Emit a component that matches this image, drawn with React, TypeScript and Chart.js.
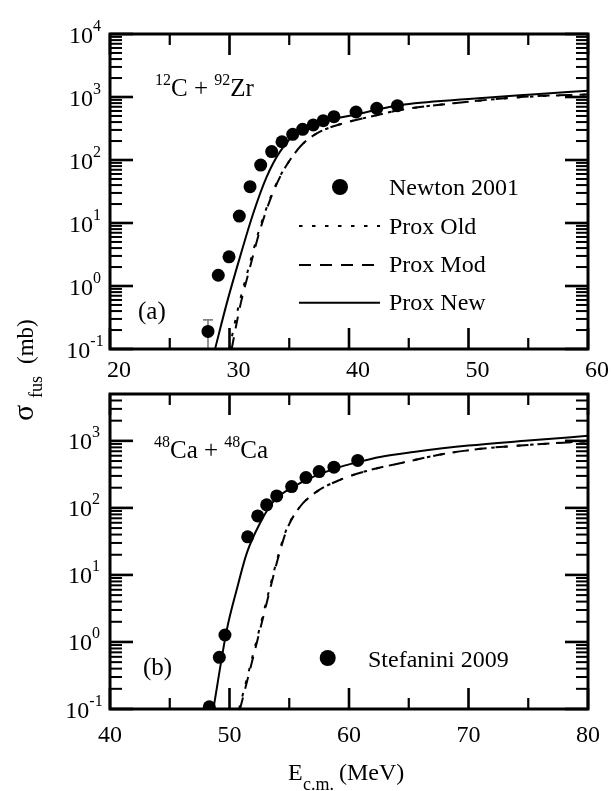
import React, { useEffect, useRef } from "react";
import { Chart, registerables } from "chart.js";

Chart.register(...registerables);

const W = 611;
const H = 791;
const FONT = '"Liberation Serif", "Times New Roman", serif';

// ---------------- Panel (a): 12C + 92Zr ----------------
const aXMin = 20;
const aXMax = 60;
const aYMin = 0.1;
const aYMax = 10000;
const aXTickLabels = [20, 30, 40, 50, 60];
const aXTicks = [20, 25, 30, 35, 40, 45, 50, 55, 60];
const aDecades = [-1, 0, 1, 2, 3, 4];

const newtonE = [28.2, 29.06, 29.96, 30.82, 31.72, 32.61, 33.53, 34.39, 35.29, 36.12, 37.01, 37.85, 38.74, 40.59, 42.32, 44.05];
const newtonSigma = [0.19, 1.48, 2.9, 12.9, 37.7, 83, 136, 195, 256, 307, 360, 421, 487, 578, 662, 728];
const newtonErrE = [28.2];
const newtonErrLow = [0.1];
const newtonErrHigh = [0.29];

const aOldE = [29.98, 30.75, 31.62, 32.48, 33.34, 34.2, 35.06, 36.18, 37.57, 39.81, 42.03, 44.27, 50, 55, 60];
const aOldSigma = [0.1, 0.47, 2.0, 7.7, 23, 54, 100, 184, 281, 396, 499, 622, 841, 1010, 1095];
const aModE = [30.18, 30.88, 31.72, 32.55, 33.39, 34.23, 35.06, 36.18, 37.57, 39.81, 42.03, 44.27, 50, 55, 60];
const aModSigma = [0.1, 0.47, 2.0, 7.7, 23, 54, 100, 184, 281, 396, 499, 622, 841, 1020, 1100];
const aNewE = [28.79, 29.77, 30.88, 31.99, 33.11, 34.23, 35.9, 38.13, 40.36, 44.27, 50, 55, 60];
const aNewSigma = [0.1, 0.53, 2.9, 14.3, 54, 136, 299, 421, 518, 746, 929, 1089, 1259];

// ---------------- Panel (b): 48Ca + 48Ca ----------------
const bXMin = 40;
const bXMax = 80;
const bYMin = 0.1;
const bYMax = 5000;
const bXTickLabels = [40, 50, 60, 70, 80];
const bXTicks = [40, 45, 50, 55, 60, 65, 70, 75, 80];
const bDecades = [-1, 0, 1, 2, 3];

const stefaniniE = [48.31, 49.15, 49.62, 51.52, 52.36, 53.11, 53.95, 55.2, 56.4, 57.5, 58.74, 60.73];
const stefaniniSigma = [0.108, 0.59, 1.27, 37, 76, 111, 151, 208, 283, 348, 405, 510];

const bOldE = [50.8, 51.92, 53.05, 53.9, 54.75, 55.9, 57.3, 59.25, 61.48, 64.27, 68, 71, 75, 80];
const bOldSigma = [0.1, 0.6, 3.8, 15, 47, 104, 175, 262, 356, 464, 640, 760, 870, 990];
const bModE = [50.88, 51.99, 53.11, 53.95, 54.79, 55.9, 57.3, 59.25, 61.48, 64.27, 68, 71, 75, 80];
const bModSigma = [0.1, 0.6, 3.8, 15, 47, 104, 175, 262, 356, 464, 640, 760, 870, 990];
const bNewE = [48.65, 49.77, 50.6, 51.44, 52.55, 53.67, 55.9, 58.69, 60.92, 62.6, 65.4, 70, 75, 80];
const bNewSigma = [0.1, 1.5, 6.0, 21, 59, 124, 234, 378, 491, 575, 680, 850, 1010, 1190];

// ---------------- helpers ----------------
const DOT_DASH = [3.5, 9.5];
const DASH = [12, 9];

type Part = { t: string; size: number; dy?: number };

function drawParts(ctx: CanvasRenderingContext2D, x: number, y: number, parts: Part[]) {
  let cx = x;
  for (const p of parts) {
    ctx.font = `${p.size}px ${FONT}`;
    ctx.fillText(p.t, cx, y + (p.dy || 0));
    cx += ctx.measureText(p.t).width;
  }
  return cx;
}

function partsWidth(ctx: CanvasRenderingContext2D, parts: Part[]) {
  let w = 0;
  for (const p of parts) {
    ctx.font = `${p.size}px ${FONT}`;
    w += ctx.measureText(p.t).width;
  }
  return w;
}

function zip(xs: number[], ys: number[]) {
  return xs.map((x, i) => ({ x, y: ys[i] }));
}

function logTickValues(min: number, max: number) {
  const out: number[] = [];
  for (let n = -3; n <= 6; n++) {
    for (let k = 1; k <= 9; k++) {
      const v = k * Math.pow(10, n);
      if (v >= min * 0.999 && v <= max * 1.001) out.push(v);
    }
  }
  return out;
}

function isDecade(v: number) {
  const l = Math.log10(v);
  return Math.abs(l - Math.round(l)) < 1e-6;
}

function legendLine(ctx: CanvasRenderingContext2D, y: number, dash: number[], label: string, textY: number) {
  ctx.save();
  ctx.strokeStyle = "#000";
  ctx.setLineDash(dash);
  ctx.lineWidth = 2;
  ctx.beginPath();
  ctx.moveTo(299, y);
  ctx.lineTo(380, y);
  ctx.stroke();
  ctx.restore();
  ctx.font = `24px ${FONT}`;
  ctx.fillText(label, 389, textY);
}

function legendDot(ctx: CanvasRenderingContext2D, x: number, y: number) {
  ctx.beginPath();
  ctx.arc(x, y, 8, 0, Math.PI * 2);
  ctx.fill();
}

type PanelCfg = {
  area: { left: number; right: number; top: number; bottom: number };
  xMin: number;
  xMax: number;
  yMin: number;
  yMax: number;
  xTicks: number[];
  xTickLabels: number[];
  xLabelShift: number;
  xLabelBaseline: number;
  decades: number[];
  yLabelCenter: number;
  pointsE: number[];
  pointsS: number[];
  oldE: number[];
  oldS: number[];
  modE: number[];
  modS: number[];
  newE: number[];
  newS: number[];
  errE?: number[];
  errLo?: number[];
  errHi?: number[];
  draw: (ctx: CanvasRenderingContext2D) => void;
};

const panelA: PanelCfg = {
  area: { left: 110, right: 588, top: 34, bottom: 349 },
  xMin: aXMin,
  xMax: aXMax,
  yMin: aYMin,
  yMax: aYMax,
  xTicks: aXTicks,
  xTickLabels: aXTickLabels,
  xLabelShift: 9,
  xLabelBaseline: 376.5,
  decades: aDecades,
  yLabelCenter: 85,
  pointsE: newtonE,
  pointsS: newtonSigma,
  oldE: aOldE,
  oldS: aOldSigma,
  modE: aModE,
  modS: aModSigma,
  newE: aNewE,
  newS: aNewSigma,
  errE: newtonErrE,
  errLo: newtonErrLow,
  errHi: newtonErrHigh,
  draw(ctx) {
    drawParts(ctx, 155, 96, [
      { t: "12", size: 16, dy: -11 },
      { t: "C + ", size: 25 },
      { t: "92", size: 16, dy: -11 },
      { t: "Zr", size: 25 },
    ]);
    ctx.font = `25px ${FONT}`;
    ctx.fillText("(a)", 138, 319);
    legendDot(ctx, 340, 187);
    ctx.font = `24px ${FONT}`;
    ctx.fillText("Newton 2001", 389, 195);
    legendLine(ctx, 226, DOT_DASH, "Prox Old", 233.5);
    legendLine(ctx, 265, DASH, "Prox Mod", 272);
    legendLine(ctx, 302.7, [], "Prox New", 310);
  },
};

const panelB: PanelCfg = {
  area: { left: 110, right: 588, top: 394, bottom: 709 },
  xMin: bXMin,
  xMax: bXMax,
  yMin: bYMin,
  yMax: bYMax,
  xTicks: bXTicks,
  xTickLabels: bXTickLabels,
  xLabelShift: 0,
  xLabelBaseline: 741.5,
  decades: bDecades,
  yLabelCenter: 84,
  pointsE: stefaniniE,
  pointsS: stefaniniSigma,
  oldE: bOldE,
  oldS: bOldSigma,
  modE: bModE,
  modS: bModSigma,
  newE: bNewE,
  newS: bNewSigma,
  draw(ctx) {
    drawParts(ctx, 154, 458, [
      { t: "48", size: 16, dy: -11 },
      { t: "Ca + ", size: 25 },
      { t: "48", size: 16, dy: -11 },
      { t: "Ca", size: 25 },
    ]);
    ctx.font = `25px ${FONT}`;
    ctx.fillText("(b)", 143, 675);
    legendDot(ctx, 327.7, 658);
    ctx.font = `24px ${FONT}`;
    ctx.fillText("Stefanini 2009", 368, 666.5);

    drawParts(ctx, 288, 779.5, [{ t: "E", size: 24 }]);
    drawParts(ctx, 303, 790, [{ t: "c.m.", size: 18 }]);
    drawParts(ctx, 339, 779.5, [{ t: "(MeV)", size: 24 }]);

    ctx.save();
    ctx.translate(33, 421);
    ctx.rotate(-Math.PI / 2);
    drawParts(ctx, 0, 0, [{ t: "σ", size: 30 }]);
    drawParts(ctx, 23, 9, [{ t: "fus", size: 18 }]);
    drawParts(ctx, 57, 0, [{ t: "(mb)", size: 23 }]);
    ctx.restore();
  },
};

// draws inward tick marks + frame of a panel using the chart's own scales
function drawFrameAndTicks(ctx: CanvasRenderingContext2D, chart: any, cfg: PanelCfg) {
  const xs = chart.scales.x;
  const ys = chart.scales.y;
  const L = xs.getPixelForValue(cfg.xMin);
  const R = xs.getPixelForValue(cfg.xMax);
  const T = ys.getPixelForValue(cfg.yMax);
  const B = ys.getPixelForValue(cfg.yMin);
  ctx.save();
  ctx.globalAlpha = 1;
  ctx.globalCompositeOperation = "source-over";
  ctx.fillStyle = "#000";
  ctx.strokeStyle = "#000";
  for (let i = 0; i < cfg.xTicks.length; i++) {
    const px = xs.getPixelForValue(cfg.xTicks[i]);
    const major = i % 2 === 0;
    const len = major ? 21 : 11;
    const tw = major ? 2.6 : 2.2;
    ctx.fillRect(px - tw / 2, B - len, tw, len);
    ctx.fillRect(px - tw / 2, T, tw, len);
  }
  const yv = logTickValues(cfg.yMin, cfg.yMax);
  for (let i = 0; i < yv.length; i++) {
    const py = ys.getPixelForValue(yv[i]);
    const major = isDecade(yv[i]);
    const len = major ? 23 : 12;
    const th = major ? 2.6 : 2;
    ctx.fillRect(L, py - th / 2, len, th);
    ctx.fillRect(R - len, py - th / 2, len, th);
  }
  ctx.lineWidth = 3;
  ctx.strokeRect(L, T, R - L, B - T);
  ctx.restore();
}

function makeChart(canvas: HTMLCanvasElement, cfg: PanelCfg) {
  const plugin = {
    id: "panelDecor",
    beforeDatasetsDraw(chart: any) {
      if (!cfg.errE) return;
      const ctx = chart.ctx as CanvasRenderingContext2D;
      const xs = chart.scales.x;
      const ys = chart.scales.y;
      ctx.save();
      ctx.fillStyle = "#7a7a7a";
      cfg.errE.forEach((e, i) => {
        const px = xs.getPixelForValue(e);
        const p1 = ys.getPixelForValue(cfg.errLo![i]);
        const p2 = ys.getPixelForValue(cfg.errHi![i]);
        ctx.fillRect(px - 0.8, p2, 1.6, p1 - p2);
        ctx.fillRect(px - 5, p2 - 0.8, 10, 1.6);
      });
      ctx.restore();
    },
    afterDraw(chart: any) {
      const ctx = chart.ctx as CanvasRenderingContext2D;
      const xs = chart.scales.x;
      const ys = chart.scales.y;
      ctx.save();
      ctx.fillStyle = "#000";
      ctx.font = `24px ${FONT}`;
      cfg.xTickLabels.forEach((v) => {
        const px = xs.getPixelForValue(v) + cfg.xLabelShift;
        const t = String(v);
        const w = ctx.measureText(t).width;
        ctx.fillText(t, px - w / 2, cfg.xLabelBaseline);
      });
      cfg.decades.forEach((n) => {
        const py = ys.getPixelForValue(Math.pow(10, n));
        const parts: Part[] = [
          { t: "10", size: 24 },
          { t: String(n), size: 16, dy: -12 },
        ];
        const w = partsWidth(ctx, parts);
        drawParts(ctx, cfg.yLabelCenter - w / 2, py + 8.5, parts);
      });
      cfg.draw(ctx);
      ctx.restore();
    },
  };
  return new Chart(canvas, {
    type: "line",
    data: {
      datasets: [
        {
          label: "data",
          data: zip(cfg.pointsE, cfg.pointsS),
          showLine: false,
          pointRadius: 6.5,
          pointBorderWidth: 0,
          pointBorderColor: "#000",
          pointBackgroundColor: "#000",
          borderColor: "#000",
        },
        {
          label: "Prox New",
          data: zip(cfg.newE, cfg.newS),
          borderColor: "#000",
          borderWidth: 2,
          pointRadius: 0,
          cubicInterpolationMode: "monotone",
        },
        {
          label: "Prox Mod",
          data: zip(cfg.modE, cfg.modS),
          borderColor: "#000",
          borderWidth: 2,
          borderDash: DASH,
          pointRadius: 0,
          cubicInterpolationMode: "monotone",
        },
        {
          label: "Prox Old",
          data: zip(cfg.oldE, cfg.oldS),
          borderColor: "#000",
          borderWidth: 2,
          borderDash: DOT_DASH,
          pointRadius: 0,
          cubicInterpolationMode: "monotone",
        },
      ],
    },
    options: {
      responsive: false,
      animation: false,
      events: [],
      layout: {
        padding: {
          left: cfg.area.left,
          right: W - cfg.area.right,
          top: cfg.area.top,
          bottom: H - cfg.area.bottom,
        },
      },
      plugins: { legend: { display: false }, tooltip: { enabled: false } },
      scales: {
        x: { type: "linear", min: cfg.xMin, max: cfg.xMax, display: false },
        y: { type: "logarithmic", min: cfg.yMin, max: cfg.yMax, display: false },
      },
    },
    plugins: [plugin],
  } as any);
}

export default function App() {
  const refA = useRef<HTMLCanvasElement | null>(null);
  const refB = useRef<HTMLCanvasElement | null>(null);
  const refO = useRef<HTMLCanvasElement | null>(null);
  useEffect(() => {
    if (!refA.current || !refB.current || !refO.current) return;
    const ca = makeChart(refA.current, panelA);
    const cb = makeChart(refB.current, panelB);
    const octx = refO.current.getContext("2d")!;
    octx.clearRect(0, 0, W, H);
    drawFrameAndTicks(octx, ca, panelA);
    drawFrameAndTicks(octx, cb, panelB);
    return () => {
      ca.destroy();
      cb.destroy();
    };
  }, []);
  const style: React.CSSProperties = { position: "absolute", left: 0, top: 0, width: W, height: H };
  return (
    <div style={{ position: "absolute", left: 0, top: 0, width: W, height: H, background: "#fff" }}>
      <canvas ref={refA} width={W} height={H} style={style} />
      <canvas ref={refB} width={W} height={H} style={style} />
      <canvas ref={refO} width={W} height={H} style={{ ...style, pointerEvents: "none" }} />
    </div>
  );
}
